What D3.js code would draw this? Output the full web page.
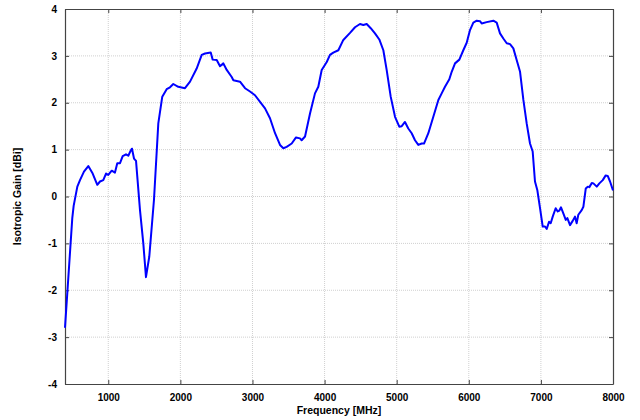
<!DOCTYPE html>
<html>
<head>
<meta charset="utf-8">
<script src="https://cdn.jsdelivr.net/npm/d3@7"></script>
<style>
  body { margin: 0; background: #fff; }
  .tick text { font-family: "Liberation Sans", Arial, sans-serif; font-weight: bold; font-size: 10px; fill: #000; }
  .grid line { stroke: #d0d0d0; stroke-dasharray: 1,1; }
  .title { font-family: "Liberation Sans", Arial, sans-serif; font-weight: bold; font-size: 10.5px; fill: #000; }
</style>
</head>
<body>
<script>
// frequency (MHz) and measured isotropic gain (dBi)
var freq = [400, 501, 520, 571, 608, 663, 723, 784, 848, 885, 931, 969, 1000, 1048, 1093, 1125, 1163, 1200, 1246, 1278, 1311, 1329, 1357, 1385, 1440, 1486, 1523, 1569, 1634, 1694, 1749, 1810, 1856, 1902, 1971, 2064, 2134, 2226, 2296, 2342, 2421, 2448, 2504, 2550, 2596, 2643, 2712, 2735, 2827, 2897, 2966, 3035, 3105, 3174, 3243, 3313, 3382, 3428, 3474, 3544, 3604, 3659, 3682, 3729, 3798, 3867, 3913, 3960, 4030, 4075, 4121, 4191, 4260, 4353, 4422, 4491, 4537, 4584, 4640, 4699, 4759, 4815, 4861, 4917, 4977, 5036, 5070, 5115, 5161, 5208, 5254, 5300, 5347, 5379, 5439, 5508, 5578, 5624, 5670, 5730, 5763, 5809, 5869, 5924, 5971, 6017, 6063, 6110, 6156, 6179, 6248, 6341, 6387, 6433, 6479, 6526, 6572, 6618, 6664, 6711, 6757, 6803, 6849, 6886, 6918, 6950, 6988, 7025, 7057, 7081, 7113, 7136, 7164, 7205, 7233, 7256, 7279, 7311, 7345, 7367, 7404, 7441, 7473, 7496, 7519, 7566, 7589, 7622, 7650, 7672, 7706, 7728, 7775, 7811, 7858, 7899, 7927, 7959, 8000];
var gain = [-2.80, -0.46, -0.20, 0.21, 0.35, 0.53, 0.65, 0.49, 0.25, 0.32, 0.35, 0.49, 0.46, 0.55, 0.51, 0.71, 0.71, 0.86, 0.90, 0.87, 0.98, 1.02, 0.81, 0.76, -0.29, -1.00, -1.72, -1.28, -0.07, 1.56, 2.13, 2.29, 2.33, 2.40, 2.34, 2.31, 2.45, 2.73, 3.02, 3.05, 3.07, 2.92, 2.91, 2.78, 2.84, 2.70, 2.55, 2.48, 2.45, 2.31, 2.24, 2.16, 2.02, 1.88, 1.67, 1.35, 1.10, 1.03, 1.06, 1.13, 1.26, 1.24, 1.20, 1.28, 1.77, 2.20, 2.34, 2.70, 2.87, 3.02, 3.07, 3.12, 3.34, 3.49, 3.61, 3.68, 3.66, 3.68, 3.59, 3.48, 3.35, 3.12, 2.70, 2.13, 1.70, 1.49, 1.50, 1.59, 1.45, 1.35, 1.20, 1.10, 1.13, 1.13, 1.35, 1.70, 2.06, 2.20, 2.34, 2.50, 2.66, 2.84, 2.92, 3.12, 3.28, 3.55, 3.71, 3.75, 3.74, 3.69, 3.72, 3.75, 3.71, 3.48, 3.37, 3.27, 3.25, 3.16, 2.91, 2.66, 2.06, 1.56, 1.13, 0.96, 0.32, 0.14, -0.25, -0.64, -0.64, -0.69, -0.54, -0.57, -0.43, -0.25, -0.32, -0.30, -0.23, -0.36, -0.50, -0.46, -0.61, -0.52, -0.43, -0.57, -0.39, -0.29, -0.22, 0.17, 0.21, 0.20, 0.29, 0.28, 0.21, 0.28, 0.35, 0.45, 0.44, 0.32, 0.13];
var xTicks = [1000, 2000, 3000, 4000, 5000, 6000, 7000, 8000];
var yTicks = [-4, -3, -2, -1, 0, 1, 2, 3, 4];

var W = 640, H = 420,
    margin = {top: 9, right: 27, bottom: 36, left: 65},
    width = W - margin.left - margin.right,
    height = H - margin.top - margin.bottom;

var svg = d3.select("body").append("svg")
    .attr("width", W)
    .attr("height", H);

var g = svg.append("g")
    .attr("transform", "translate(" + margin.left + "," + margin.top + ")");

var x = d3.scaleLinear().domain([400, 8000]).range([0, width]);
var y = d3.scaleLinear().domain([-4, 4]).range([height, 0]);

// grid
g.append("g").attr("class", "grid")
  .selectAll("line").data(xTicks.filter(d => d < 8000)).enter().append("line")
    .attr("x1", d => x(d)).attr("x2", d => x(d))
    .attr("y1", 0).attr("y2", height);
g.append("g").attr("class", "grid")
  .selectAll("line").data(yTicks.filter(d => d > -4 && d < 4)).enter().append("line")
    .attr("x1", 0).attr("x2", width)
    .attr("y1", d => y(d)).attr("y2", d => y(d));

// axes with inward ticks, plain hyphen minus signs
var fmt = d => String(d);
g.append("g")
    .attr("transform", "translate(0," + height + ")")
    .call(d3.axisBottom(x).tickValues(xTicks).tickSizeInner(-4).tickSizeOuter(0).tickPadding(10).tickFormat(fmt));
g.append("g")
    .call(d3.axisLeft(y).tickValues(yTicks).tickSizeInner(-4).tickSizeOuter(0).tickPadding(8).tickFormat(fmt));
g.append("g")
    .call(d3.axisTop(x).tickValues(xTicks).tickSizeInner(-4).tickSizeOuter(0).tickFormat(""));
g.append("g")
    .attr("transform", "translate(" + width + ",0)")
    .call(d3.axisRight(y).tickValues(yTicks).tickSizeInner(-4).tickSizeOuter(0).tickFormat(""));

g.selectAll(".domain").attr("stroke", "#444").attr("stroke-width", 1.2);
g.selectAll(".tick line").attr("stroke", "#444");

// data line
var line = d3.line()
    .x((d, i) => x(freq[i]))
    .y((d, i) => y(gain[i]));

g.append("path")
    .datum(gain)
    .attr("fill", "none")
    .attr("stroke", "#0000ff")
    .attr("stroke-width", 2)
    .attr("stroke-linejoin", "round")
    .attr("d", line);

// titles
svg.append("text").attr("class", "title")
    .attr("x", margin.left + width / 2).attr("y", 414)
    .attr("text-anchor", "middle")
    .text("Frequency [MHz]");
svg.append("text").attr("class", "title")
    .attr("transform", "translate(21," + (margin.top + height / 2) + ") rotate(-90)")
    .attr("text-anchor", "middle")
    .text("Isotropic Gain [dBi]");
</script>
</body>
</html>
